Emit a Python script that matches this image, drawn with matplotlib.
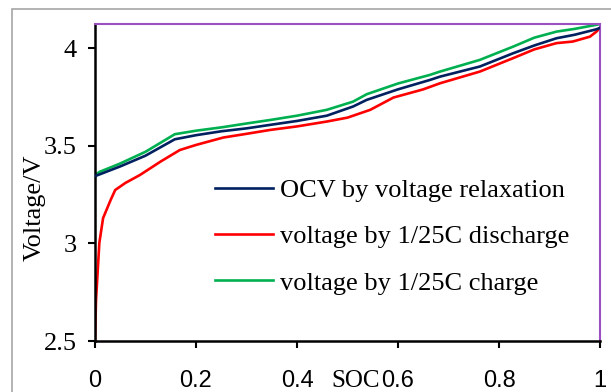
import matplotlib
matplotlib.use('Agg')
import matplotlib.pyplot as plt
from matplotlib.patches import Rectangle

# SOC / voltage
soc_ocv = [0, 0.005, 0.05, 0.1, 0.158, 0.2, 0.25, 0.3, 0.347, 0.4, 0.459, 0.511,
           0.538, 0.6, 0.663, 0.683, 0.762, 0.828, 0.87, 0.914, 0.95, 0.993, 1.0]
v_ocv = [3.346, 3.35, 3.395, 3.45, 3.534, 3.555, 3.575, 3.59, 3.608, 3.628, 3.655, 3.702,
         3.736, 3.79, 3.838, 3.855, 3.907, 3.975, 4.015, 4.052, 4.07, 4.098, 4.105]

soc_dis = [0, 0.002, 0.0086, 0.016, 0.031, 0.04, 0.06, 0.089, 0.13, 0.168, 0.2, 0.254,
           0.3, 0.347, 0.4, 0.459, 0.5, 0.545, 0.591, 0.65, 0.683, 0.762, 0.828, 0.87,
           0.914, 0.946, 0.98, 0.993, 1.0]
v_dis = [2.5, 2.71, 3.003, 3.13, 3.223, 3.274, 3.31, 3.351, 3.42, 3.479, 3.505, 3.543,
         3.562, 3.582, 3.6, 3.625, 3.645, 3.685, 3.748, 3.79, 3.821, 3.881, 3.95, 3.995,
         4.027, 4.035, 4.06, 4.086, 4.105]

soc_chg = [0, 0.005, 0.01, 0.05, 0.1, 0.158, 0.2, 0.25, 0.3, 0.347, 0.4, 0.459, 0.511,
           0.538, 0.6, 0.663, 0.683, 0.762, 0.828, 0.87, 0.914, 0.95, 0.993, 1.0]
v_chg = [3.34, 3.36, 3.368, 3.41, 3.47, 3.56, 3.578, 3.595, 3.615, 3.633, 3.655, 3.685,
         3.727, 3.765, 3.82, 3.864, 3.881, 3.941, 4.009, 4.055, 4.086, 4.1, 4.121, 4.125]

labels = ['OCV by voltage relaxation', 'voltage by 1/25C discharge', 'voltage by 1/25C charge']
colors = ['#002060', '#ff0000', '#00b050']

xticks = [0, 0.2, 0.4, 0.6, 0.8, 1]
xticklabels = ['0', '0.2', '0.4', '0.6', '0.8', '1']
yticks = [2.5, 3, 3.5, 4]
yticklabels = ['2.5', '3', '3.5', '4']

plt.rcParams['font.family'] = ['Liberation Serif', 'DejaVu Serif']

fig = plt.figure(figsize=(6.11, 3.92), dpi=100)
ax = fig.add_axes([95/611, 1-341/392, 505/611, 317/392])

ax.plot(soc_ocv, v_ocv, color=colors[0], lw=1.9, label=labels[0], zorder=3)
ax.plot(soc_dis, v_dis, color=colors[1], lw=1.9, label=labels[1], zorder=2)
ax.plot(soc_chg, v_chg, color=colors[2], lw=1.9, label=labels[2], zorder=1)

ax.set_xlim(0, 1)
ax.set_ylim(2.5, 4.125)
ax.set_xticks(xticks)
ax.set_xticklabels(xticklabels, family='Liberation Sans', fontsize=17)
ax.set_yticks(yticks)
ax.set_yticklabels(yticklabels, fontsize=19)
ax.tick_params(direction='out', length=5, width=1.5)
ax.tick_params(axis='x', pad=16)
ax.tick_params(axis='y', pad=8)

for s in ['left', 'bottom']:
    ax.spines[s].set_linewidth(1.8)
    ax.spines[s].set_color('black')
for s in ['top', 'right']:
    ax.spines[s].set_linewidth(1.5)
    ax.spines[s].set_color('#9b4fc0')

ax.set_xlabel('SOC', fontsize=18)
ax.xaxis.set_label_coords(0.517, -0.09)
ax.set_ylabel('Voltage/V', fontsize=19)
ax.yaxis.set_label_coords(-0.097, 0.42)

# legend floats inside the plot, no box
ax.legend(loc='upper left', bbox_to_anchor=(0.238, 0.512), frameon=False, fontsize=19,
          handlelength=2.2, handletextpad=0.27, labelspacing=0.86,
          borderpad=0, borderaxespad=0)

# grey chart-area border (cut off at the right and bottom)
fig.patches.append(Rectangle((12/611, -0.1), 2, 1 - 9/392 + 0.1, transform=fig.transFigure,
                             fill=False, edgecolor='#a6a6a6', lw=1.2))

fig.savefig('out.png', dpi=100)
